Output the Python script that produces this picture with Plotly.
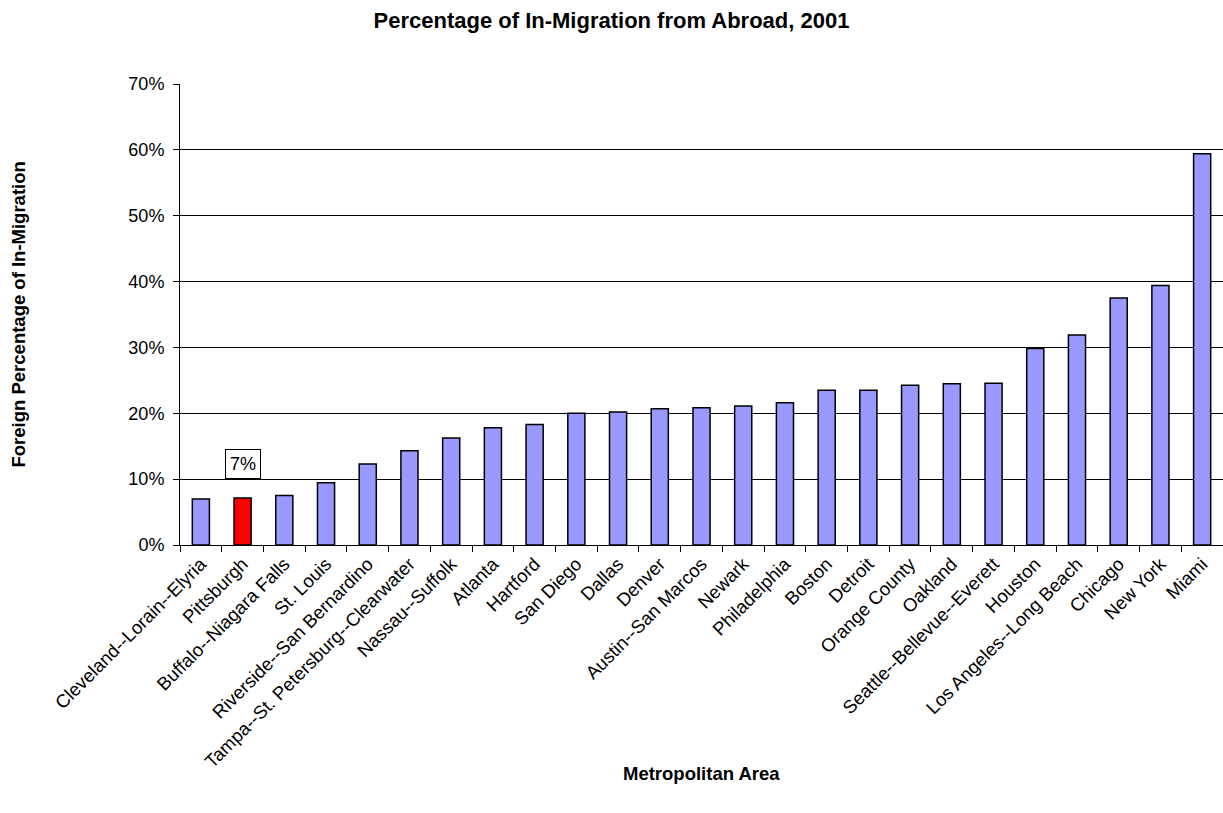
import plotly.graph_objects as go

categories = ["Cleveland--Lorain--Elyria", "Pittsburgh", "Buffalo--Niagara Falls", "St. Louis",
              "Riverside--San Bernardino", "Tampa--St. Petersburg--Clearwater", "Nassau--Suffolk",
              "Atlanta", "Hartford", "San Diego", "Dallas", "Denver", "Austin--San Marcos", "Newark",
              "Philadelphia", "Boston", "Detroit", "Orange County", "Oakland",
              "Seattle--Bellevue--Everett", "Houston", "Los Angeles--Long Beach", "Chicago",
              "New York", "Miami"]
values = [7.0, 7.15, 7.5, 9.45, 12.3, 14.3, 16.25, 17.8, 18.3, 20.0, 20.2, 20.7, 20.85, 21.1,
          21.6, 23.5, 23.5, 24.25, 24.5, 24.55, 29.85, 31.9, 37.5, 39.4, 59.4]
y_ticks = [0, 10, 20, 30, 40, 50, 60, 70]
y_tick_labels = ["0%", "10%", "20%", "30%", "40%", "50%", "60%", "70%"]
highlight = "Pittsburgh"

colors = ["#FF0000" if c == highlight else "#9999FF" for c in categories]
font = "Arial, Liberation Sans, sans-serif"

fig = go.Figure(go.Bar(
    x=categories, y=[v / 100 for v in values],
    marker=dict(color=colors, line=dict(color="black", width=1.5)),
    hoverinfo="x+y",
))

hi = categories.index(highlight)
fig.add_annotation(x=categories[hi], y=0.10, yanchor="bottom", text="7%", showarrow=False,
                   font=dict(family=font, size=18, color="black"),
                   bordercolor="black", borderwidth=1, borderpad=4, bgcolor="white")

fig.update_layout(
    width=1223, height=813,
    margin=dict(l=180, r=0, t=84, b=268),
    paper_bgcolor="white", plot_bgcolor="white",
    bargap=0.59, showlegend=False,
    font=dict(family=font, color="black"),
    title=dict(text="<b>Percentage of In-Migration from Abroad, 2001</b>", x=0.5, xanchor="center",
               y=1 - 20 / 813, yanchor="middle", font=dict(size=22, family=font, color="black")),
)
fig.update_xaxes(
    type="category", tickangle=-45, tickfont=dict(size=18.5, family=font, color="black"),
    showline=True, linecolor="black", linewidth=1,
    ticks="outside", tickson="boundaries", ticklen=6, tickcolor="black",
    showgrid=False,
)
fig.update_yaxes(
    range=[0, 0.70], tickvals=[t / 100 for t in y_ticks], ticktext=y_tick_labels,
    tickfont=dict(size=18, family=font, color="black"), ticklabelstandoff=5,
    showline=True, linecolor="black", linewidth=1,
    ticks="outside", ticklen=6, tickcolor="black",
    showgrid=True, gridcolor="black", gridwidth=1, zeroline=False,
)
fig.add_annotation(xref="paper", yref="paper", x=0.5, y=-(773 - 545) / (545 - 84),
                   yanchor="middle", text="<b>Metropolitan Area</b>", showarrow=False,
                   font=dict(size=18.5, family=font, color="black"))
fig.add_annotation(xref="paper", yref="paper", x=-(180 - 18) / (1223 - 180), xanchor="center",
                   y=0.5, text="<b>Foreign Percentage of In-Migration</b>", textangle=-90,
                   showarrow=False, font=dict(size=18.5, family=font, color="black"))

fig.write_html("out.html")
